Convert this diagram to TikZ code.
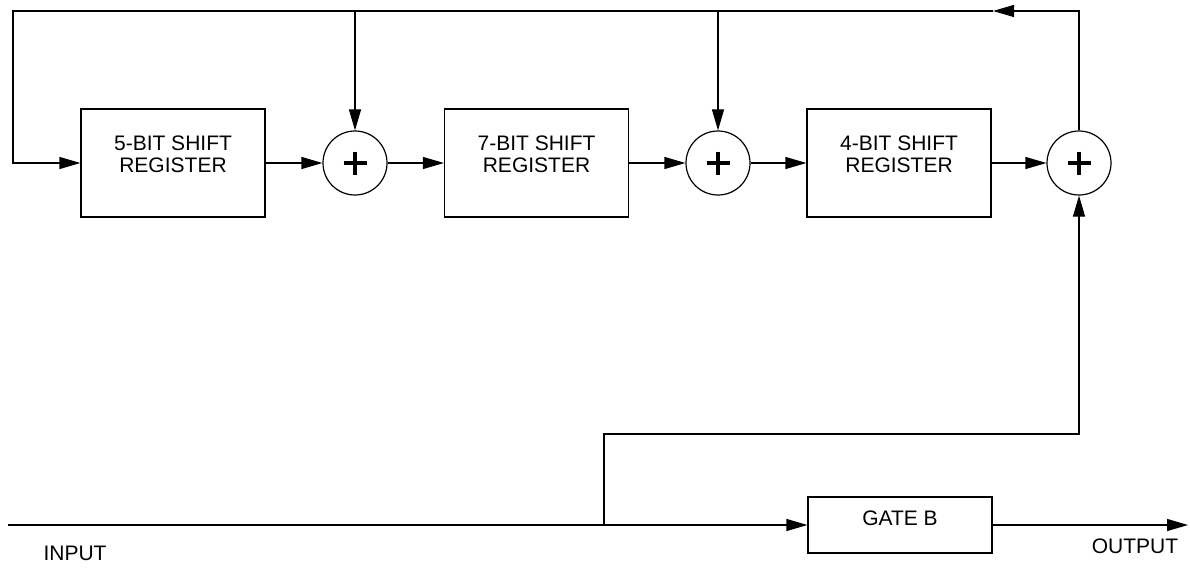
\documentclass[tikz,border=0pt]{standalone}
\usepackage{fontspec}
\setmainfont{Liberation Sans}
\usetikzlibrary{arrows.meta,calc}
\begin{document}
\begin{tikzpicture}[x=1pt,y=-1pt,
  line width=1.2pt,
  arr/.style={-{Triangle[length=21pt,width=12pt]}},
  regbox/.style={draw,minimum width=184pt,minimum height=108pt,inner sep=0pt},
  gatebox/.style={draw,minimum width=184pt,minimum height=56pt,inner sep=0pt},
  xorc/.style={draw,circle,minimum size=64pt,inner sep=0pt},
  plusbar/.style={line width=4pt},
  lbl/.style={font=\fontsize{21}{22}\selectfont,align=center,inner sep=0pt}]
\useasboundingbox (0,0) rectangle (1190,567);
% registers
\node[regbox] (r1) at (173,163) {};
\node[regbox] (r2) at (536.5,163) {};
\node[regbox] (r3) at (899,163) {};
\node[lbl] (t1) at (173,154) {5-BIT SHIFT\\REGISTER};
\node[lbl] (t2) at (536.5,154) {7-BIT SHIFT\\REGISTER};
\node[lbl] (t3) at (899,154) {4-BIT SHIFT\\REGISTER};
% adders
\node[xorc] (c1) at (355,163) {};
\node[xorc] (c2) at (718,163) {};
\node[xorc] (c3) at (1079,163) {};
\foreach \c in {c1,c2,c3}{
  \draw[plusbar] ($(\c.center)+(-11.5,0)$) -- ($(\c.center)+(11.5,0)$);
  \draw[plusbar] ($(\c.center)+(0,-11.5)$) -- ($(\c.center)+(0,11.5)$);
}
% gate
\node[gatebox] (g) at (900,525) {};
\node[lbl] (tg) at (900,518) {GATE B};
% coordinates
\coordinate (topc3) at (1079,11);
\coordinate (toptip) at (993,11);
\coordinate (topl) at (13,11);
\coordinate (top1) at (355,11);
\coordinate (top2) at (718,11);
\coordinate (in) at (8,525);
\coordinate (br) at (604,525);
\coordinate (brt) at (604,434);
\coordinate (out) at (1188,525);
% main chain
\draw[arr] (r1.east) -- (c1.west);
\draw[arr] (c1.east) -- (r2.west);
\draw[arr] (r2.east) -- (c2.west);
\draw[arr] (c2.east) -- (r3.west);
\draw[arr] (r3.east) -- (c3.west);
% feedback
\draw[arr] (c3.north) -- (topc3) -- (toptip);
\draw[arr] (toptip) -- (topl) |- (r1.west);
\draw[arr] (top1) -- (c1.north);
\draw[arr] (top2) -- (c2.north);
% input / output
\draw[arr] (in) -- (g.west);
\draw[arr] (br) -- (brt) -| (c3.south);
\draw[arr] (g.east) -- (out);
\node[lbl] (lin) at (75,553) {INPUT};
\node[lbl] (lout) at (1135,546) {OUTPUT};
\end{tikzpicture}
\end{document}
